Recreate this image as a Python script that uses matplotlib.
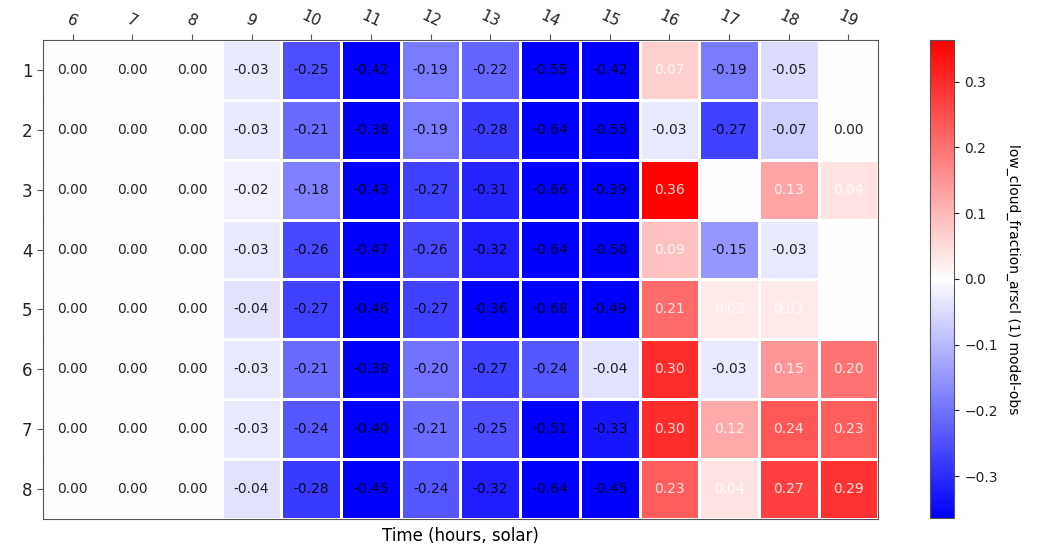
import numpy as np
import matplotlib
matplotlib.use("Agg")
import matplotlib.pyplot as plt

# --- data ---
hours = [6, 7, 8, 9, 10, 11, 12, 13, 14, 15, 16, 17, 18, 19]
rows = [1, 2, 3, 4, 5, 6, 7, 8]

# tiny positive values (0.001) are cells that print as a white, near invisible "0.00"
row1 = [0.00, 0.00, 0.00, -0.03, -0.25, -0.42, -0.19, -0.22, -0.55, -0.42, 0.07, -0.19, -0.05, 0.001]
row2 = [0.00, 0.00, 0.00, -0.03, -0.21, -0.38, -0.19, -0.28, -0.64, -0.55, -0.03, -0.27, -0.07, 0.00]
row3 = [0.00, 0.00, 0.00, -0.02, -0.18, -0.43, -0.27, -0.31, -0.66, -0.39, 0.36, 0.001, 0.13, 0.04]
row4 = [0.00, 0.00, 0.00, -0.03, -0.26, -0.47, -0.26, -0.32, -0.64, -0.50, 0.09, -0.15, -0.03, 0.001]
row5 = [0.00, 0.00, 0.00, -0.04, -0.27, -0.46, -0.27, -0.36, -0.68, -0.49, 0.21, 0.03, 0.03, 0.001]
row6 = [0.00, 0.00, 0.00, -0.03, -0.21, -0.38, -0.20, -0.27, -0.24, -0.04, 0.30, -0.03, 0.15, 0.20]
row7 = [0.00, 0.00, 0.00, -0.03, -0.24, -0.40, -0.21, -0.25, -0.51, -0.33, 0.30, 0.12, 0.24, 0.23]
row8 = [0.00, 0.00, 0.00, -0.04, -0.28, -0.45, -0.24, -0.32, -0.64, -0.45, 0.23, 0.04, 0.27, 0.29]

VMAX = 0.363
CBAR_LABEL = "low_cloud_fraction_arscl (1) model-obs"
XLABEL = "Time (hours, solar)"

data = np.array([row1, row2, row3, row4, row5, row6, row7, row8])

fig = plt.figure(figsize=(10.43, 5.49), dpi=100)
ax = fig.add_axes([0.041, 0.055, 0.801, 0.872])
cax = fig.add_axes([0.892, 0.057, 0.023, 0.870])

xe = np.arange(len(hours) + 1)
ye = np.arange(len(rows) + 1)
mesh = ax.pcolormesh(xe, ye, data, cmap="bwr", vmin=-VMAX, vmax=VMAX,
                     edgecolors="white", linewidth=2)
ax.set_xlim(0, len(hours))
ax.set_ylim(len(rows), 0)

for i in range(len(rows)):
    for j in range(len(hours)):
        v = data[i, j]
        col = "white" if v > 0 else "black"
        ax.text(j + 0.5, i + 0.5, f"{v:.2f}", ha="center", va="center",
                fontsize=10, color=col, alpha=0.85)

ax.xaxis.tick_top()
ax.set_xticks(np.arange(len(hours)) + 0.5)
ax.set_xticklabels(hours, rotation=-25, fontsize=11, ha="center")
ax.set_yticks(np.arange(len(rows)) + 0.5)
ax.set_yticklabels(rows, fontsize=12)
ax.set_xlabel(XLABEL, fontsize=12, labelpad=6)
ax.xaxis.set_label_position("bottom")
for s in ax.spines.values():
    s.set_color("#555555")
ax.tick_params(colors="#222222", length=4, color="#555555")

cb = fig.colorbar(mesh, cax=cax)
cb.set_ticks([-0.3, -0.2, -0.1, 0.0, 0.1, 0.2, 0.3])
cb.ax.tick_params(labelsize=10, colors="#222222")
cb.outline.set_edgecolor("#555555")
cb.set_label(CBAR_LABEL, rotation=270, labelpad=16, fontsize=10)

fig.savefig("out.png", dpi=100)
